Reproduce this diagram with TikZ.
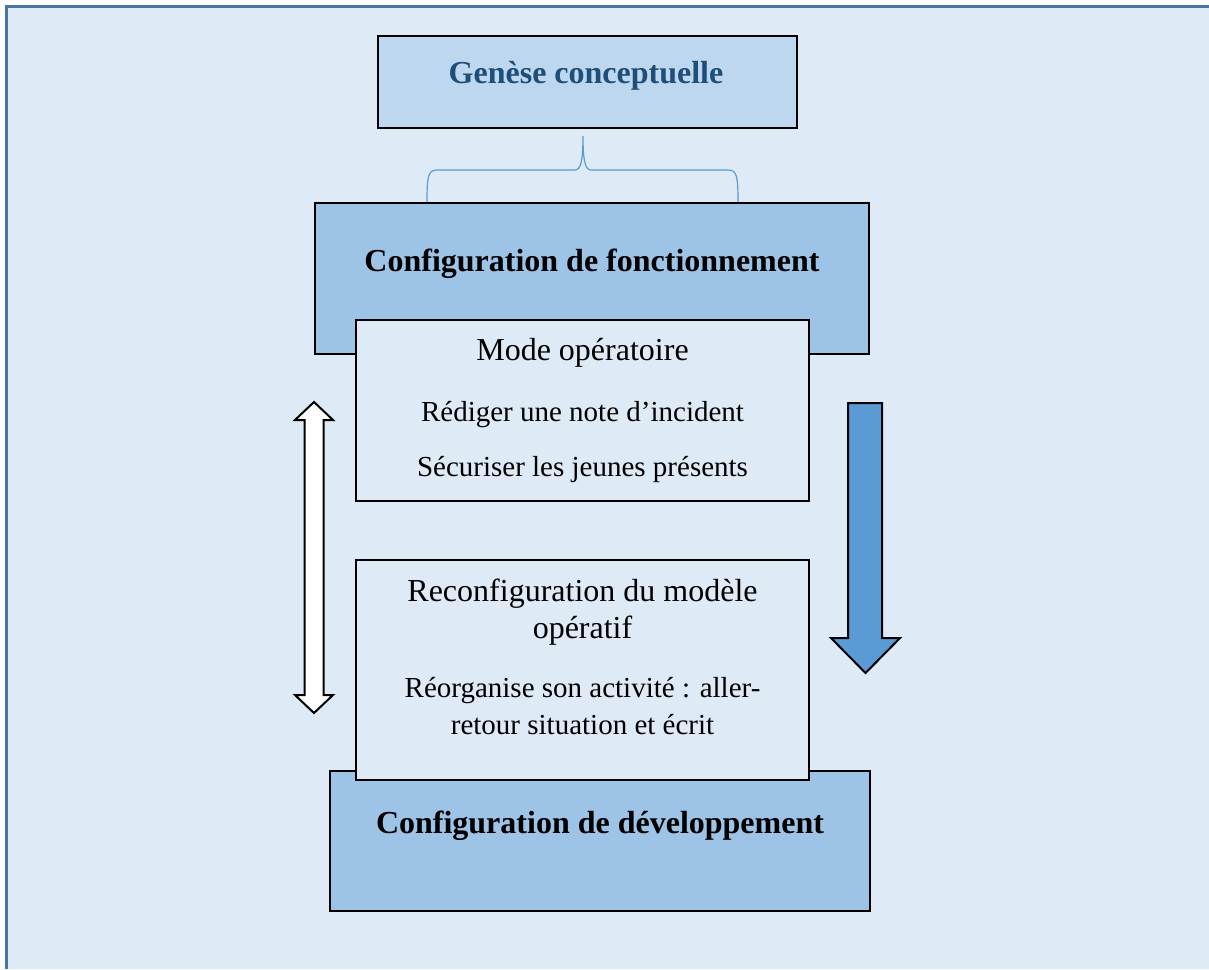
\documentclass[tikz,border=0pt]{standalone}
\usepackage{fontspec}
\setmainfont{Liberation Serif}
\definecolor{pagebg}{HTML}{DEEAF6}
\definecolor{framec}{HTML}{4A74A3}
\definecolor{genfill}{HTML}{BDD7EE}
\definecolor{cfgfill}{HTML}{9DC3E6}
\definecolor{arrowfill}{HTML}{5B9BD5}
\definecolor{gentext}{HTML}{1F4E79}
\tikzset{
  bigbold/.style={font=\fontsize{32}{38}\selectfont\bfseries, anchor=base, inner sep=0pt},
  bigreg/.style={font=\fontsize{32}{38}\selectfont, anchor=base, inner sep=0pt},
  smallreg/.style={font=\fontsize{29}{35}\selectfont, anchor=base, inner sep=0pt},
  cfgbox/.style={draw=black, line width=2pt, fill=cfgfill},
  innerbox/.style={draw=black, line width=1.5pt, fill=pagebg},
}
\begin{document}
\begin{tikzpicture}[x=1pt, y=-1pt]
\useasboundingbox (0,0) rectangle (1209,969);
\fill[white] (0,0) rectangle (1209,969);
\fill[pagebg] (6.5,6.5) rectangle (1209,969);
\draw[framec, line width=2.5pt] (6.5,969) -- (6.5,6.5) -- (1209,6.5);

% Genese box
\draw[draw=black, line width=2.5pt, fill=genfill] (378,36) rectangle (797,128);
\coordinate (genb) at (583,136);
\node[bigbold, text=gentext] (gen) at (586,83) {Genèse conceptuelle};

% brace
\draw[arrowfill, line width=1.2pt] (427,203) .. controls (427,176) and (428,170) .. (437,170)
  -- (575,170) .. controls (581,170) and (583,160) .. (genb)
  .. controls (583,160) and (585,170) .. (591,170)
  -- (728,170) .. controls (737,170) and (738,176) .. (738,203);

% Configuration de fonctionnement
\draw[cfgbox] (315,203) rectangle (869,354);
\node[bigbold] (cfgf) at (592,271) {Configuration de fonctionnement};

% Configuration de developpement
\draw[cfgbox] (330,771) rectangle (870,911);
\node[bigbold] (cfgd) at (600,833) {Configuration de développement};

% Mode operatoire box
\draw[innerbox] (356,320) rectangle (809,501);
\node[bigreg] (mode) at (582.5,360) {Mode opératoire};
\node[smallreg] (redig) at (582.5,421) {Rédiger une note d’incident};
\node[smallreg] (secur) at (582.5,476) {Sécuriser les jeunes présents};

% Reconfiguration box
\draw[innerbox] (356,560) rectangle (809,780);
\node[bigreg] (reconf1) at (582.5,601) {Reconfiguration du modèle};
\node[bigreg] (reconf2) at (582.5,638) {opératif};
\node[smallreg] (reorg1) at (582.5,697) {Réorganise son activité : aller-};
\node[smallreg] (reorg2) at (582.5,734) {retour situation et écrit};

% double arrow (white)
\draw[black, line width=2pt, fill=white, line join=miter]
  (314,402) -- (333,420) -- (323.5,420) -- (323.5,695) -- (333,695) -- (314,713)
  -- (295,695) -- (304.5,695) -- (304.5,420) -- (295,420) -- cycle;

% down arrow (blue)
\draw[black, line width=2pt, fill=arrowfill, line join=miter]
  (848,403) -- (882,403) -- (882,638) -- (900,638) -- (865.5,673) -- (831,638) -- (848,638) -- cycle;
\end{tikzpicture}
\end{document}
